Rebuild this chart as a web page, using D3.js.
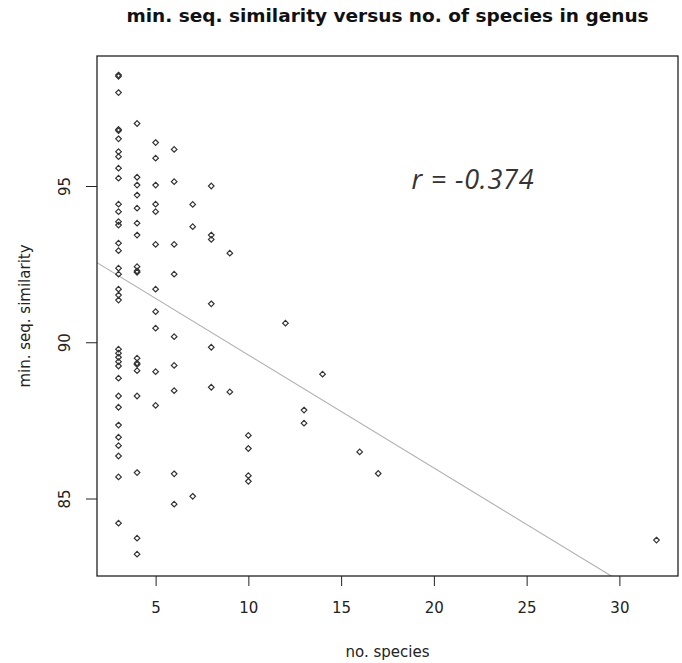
<!DOCTYPE html>
<html lang="en">
<head>
  <meta charset="UTF-8">
  <title>min. seq. similarity</title>
  <script src="https://d3js.org/d3.v7.min.js"></script>
  <style>
    * { margin: 0; padding: 0; box-sizing: border-box; }
    body { background: #fff; font-family: "DejaVu Sans", sans-serif; }
    .tick text { fill: #222; }
  </style>
</head>
<body>
  <div id="chart"></div>
  <script>
    // number of species in genus (x) and min. sequence similarity (y), one pair per genus
    const species = [
      3, 3, 3, 3, 3, 3, 3, 3, 3, 3, 3, 3, 3, 3, 3, 3, 3, 3, 3, 3,
      3, 3, 3, 3, 3, 3, 3, 3, 3, 3, 3, 3, 3, 3, 3,
      4, 4, 4, 4, 4, 4, 4, 4, 4, 4, 4, 4, 4, 4, 4, 4, 4, 4,
      5, 5, 5, 5, 5, 5, 5, 5, 5, 5, 5,
      6, 6, 6, 6, 6, 6, 6, 6, 6,
      7, 7, 7,
      8, 8, 8, 8, 8, 8,
      9, 9,
      10, 10, 10, 10,
      12, 13, 13, 14, 16, 17, 32
    ];
    const similarity = [
      98.55, 98.51, 97.99, 96.81, 96.77, 96.51, 96.10, 95.94, 95.57, 95.25,
      94.42, 94.18, 93.86, 93.75, 93.17, 92.93, 92.37, 92.18, 91.70, 91.51,
      91.35, 89.78, 89.65, 89.52, 89.38, 89.24, 88.85, 88.28, 87.92, 87.35,
      86.96, 86.69, 86.36, 85.69, 84.21,
      97.00, 95.28, 95.03, 94.71, 94.29, 93.81, 93.43, 92.42, 92.28, 92.24,
      89.49, 89.33, 89.29, 89.09, 88.28, 85.83, 83.73, 83.22,
      96.39, 95.89, 95.03, 94.42, 94.18, 93.13, 91.70, 90.98, 90.45, 89.06, 87.98,
      96.17, 95.14, 93.13, 92.18, 90.18, 89.26, 88.45, 85.79, 84.82,
      94.41, 93.70, 85.07,
      95.00, 93.43, 93.29, 91.23, 89.84, 88.56,
      92.85, 88.41,
      87.02, 86.60, 85.73, 85.55,
      90.61, 87.83, 87.41, 88.98, 86.49, 85.80, 83.67
    ];
    // least squares fit
    const fitIntercept = 93.21;
    const fitSlope = -0.3616;
    const rLabel = "r = -0.374";

    const xTicks = [5, 10, 15, 20, 25, 30];
    const yTicks = [85, 90, 95];

    const data = species.map((s, i) => ({ n: s, sim: similarity[i] }));

    const W = 682, H = 663;
    const box = { left: 97, right: 678, top: 56, bottom: 576 };

    const svg = d3.select("#chart")
      .append("svg")
      .attr("width", W)
      .attr("height", H);

    const x = d3.scaleLinear()
      .domain([1.84, 33.16])
      .range([box.left, box.right]);

    const y = d3.scaleLinear()
      .domain([82.52, 99.16])
      .range([box.bottom, box.top]);

    svg.append("defs").append("clipPath")
      .attr("id", "plotclip")
      .append("rect")
      .attr("x", box.left)
      .attr("y", box.top)
      .attr("width", box.right - box.left)
      .attr("height", box.bottom - box.top);

    // title
    svg.append("text")
      .attr("x", (box.left + box.right) / 2)
      .attr("y", 22)
      .attr("text-anchor", "middle")
      .style("font-size", "18.5px")
      .style("font-weight", "bold")
      .style("fill", "#111")
      .text("min. seq. similarity versus no. of species in genus");

    // axes
    const xAxis = svg.append("g")
      .attr("transform", `translate(0,${box.bottom})`)
      .call(d3.axisBottom(x).tickValues(xTicks).tickSize(10).tickPadding(16).tickSizeOuter(0));
    xAxis.select(".domain").remove();
    xAxis.selectAll(".tick line").attr("stroke", "#222");
    xAxis.selectAll(".tick text").style("font-size", "15px").style("font-family", "DejaVu Sans, sans-serif");

    const yAxis = svg.append("g")
      .attr("transform", `translate(${box.left},0)`)
      .call(d3.axisLeft(y).tickValues(yTicks).tickSize(11).tickSizeOuter(0));
    yAxis.select(".domain").remove();
    yAxis.selectAll(".tick line").attr("stroke", "#222");
    yAxis.selectAll(".tick text")
      .attr("x", 0)
      .attr("dy", null)
      .attr("transform", "translate(-32,0) rotate(-90)")
      .attr("text-anchor", "middle")
      .attr("dominant-baseline", "central")
      .style("font-size", "15px")
      .style("font-family", "DejaVu Sans, sans-serif");

    // axis titles
    svg.append("text")
      .attr("x", (box.left + box.right) / 2)
      .attr("y", 657)
      .attr("text-anchor", "middle")
      .style("font-size", "15px")
      .style("fill", "#222")
      .text("no. species");

    svg.append("text")
      .attr("transform", `translate(25,${(box.top + box.bottom) / 2}) rotate(-90)`)
      .attr("text-anchor", "middle")
      .attr("dominant-baseline", "central")
      .style("font-size", "15px")
      .style("fill", "#222")
      .text("min. seq. similarity");

    // regression line
    const xd = x.domain();
    svg.append("line")
      .attr("clip-path", "url(#plotclip)")
      .attr("x1", x(xd[0]))
      .attr("y1", y(fitIntercept + fitSlope * xd[0]))
      .attr("x2", x(xd[1]))
      .attr("y2", y(fitIntercept + fitSlope * xd[1]))
      .attr("stroke", "#b0b0b0")
      .attr("stroke-width", 1.1);

    // points, small open diamonds
    const diamond = "M0,-2.8L2.8,0L0,2.8L-2.8,0Z";
    svg.selectAll(".pt")
      .data(data)
      .enter()
      .append("path")
      .attr("class", "pt")
      .attr("d", diamond)
      .attr("transform", d => `translate(${x(d.n)},${y(d.sim)})`)
      .attr("fill", "none")
      .attr("stroke", "#333")
      .attr("stroke-width", 1.2);

    // plot box
    svg.append("rect")
      .attr("x", box.left)
      .attr("y", box.top)
      .attr("width", box.right - box.left)
      .attr("height", box.bottom - box.top)
      .attr("fill", "none")
      .attr("stroke", "#222")
      .attr("stroke-width", 1.3);

    // correlation label
    svg.append("text")
      .attr("x", 473)
      .attr("y", 189)
      .attr("text-anchor", "middle")
      .style("font-family", "'Open Sans', sans-serif")
      .style("font-style", "italic")
      .style("font-size", "27px")
      .style("letter-spacing", "0.8px")
      .style("fill", "#333")
      .text(rLabel);
  </script>
</body>
</html>
